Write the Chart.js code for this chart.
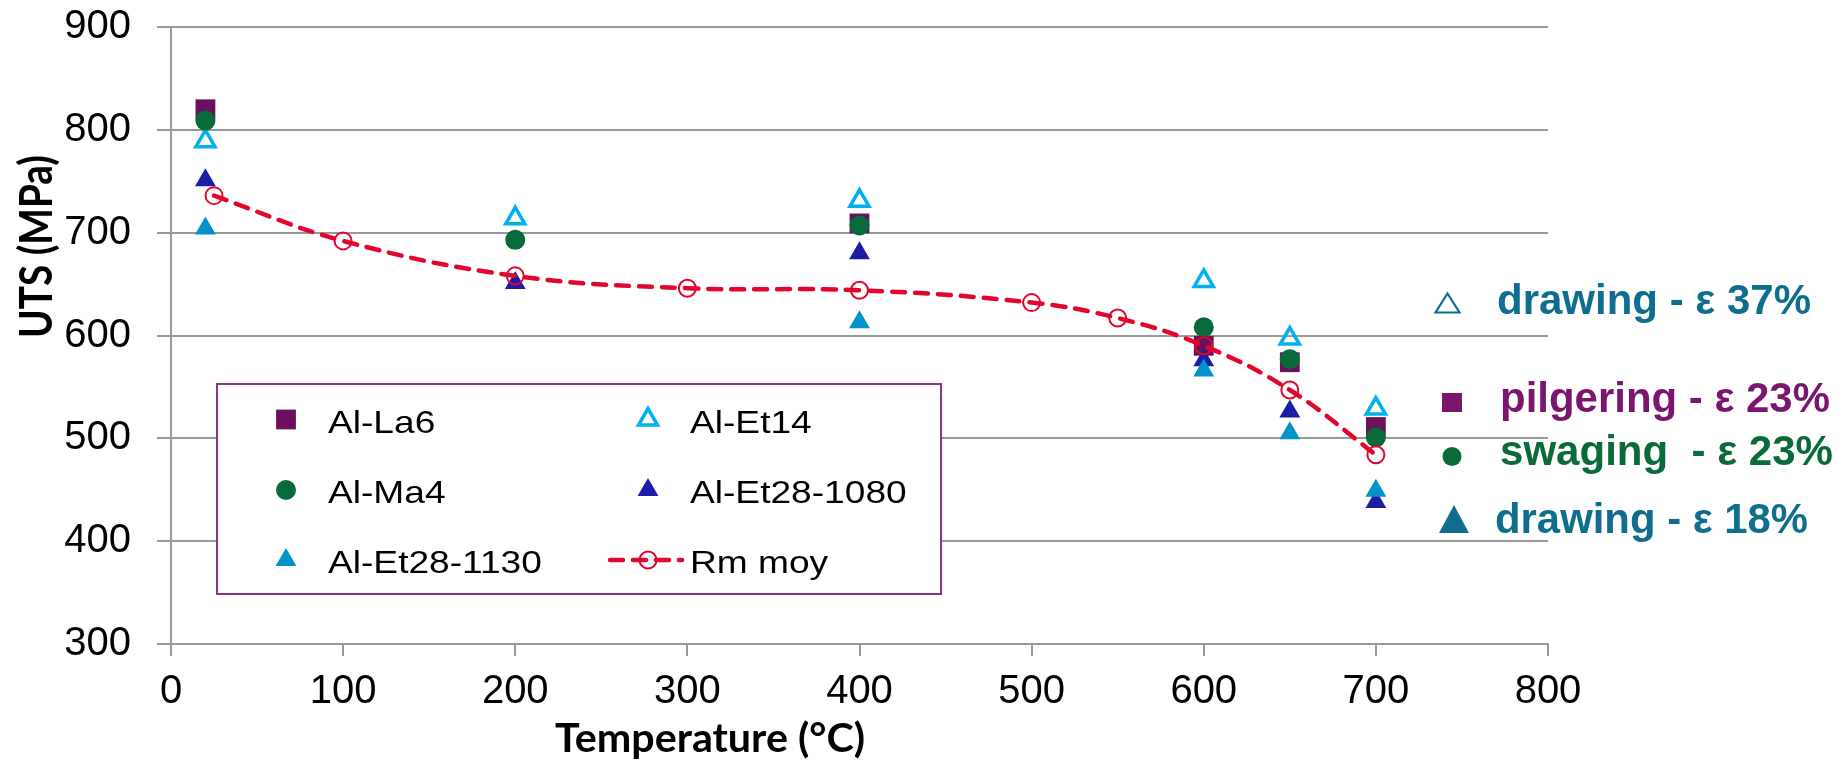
<!DOCTYPE html>
<html>
<head>
<meta charset="utf-8">
<title>UTS vs Temperature</title>
<script src="https://cdn.jsdelivr.net/npm/chart.js@4/dist/chart.umd.min.js"></script>
<style>
  html, body { margin: 0; padding: 0; background: #fff; }
  #wrap { width: 1845px; height: 771px; }
</style>
</head>
<body>
<div id="wrap"><canvas id="chart" width="1845" height="771"></canvas></div>
<script>
// temperatures (°C) and UTS (MPa) for each alloy
const la6Temp = [20, 400, 600, 650, 700];
const la6Uts = [820, 709, 590, 574, 511];

const et14Temp = [20, 200, 400, 600, 650, 700];
const et14Uts = [789, 714, 731, 653, 597, 529];

const ma4Temp = [20, 200, 400, 600, 650, 700];
const ma4Uts = [809, 693, 707, 608, 577, 501];

const et1080Temp = [20, 200, 400, 600, 650, 700];
const et1080Uts = [751, 651, 680, 576, 526, 438];

const et1130Temp = [20, 400, 600, 650, 700];
const et1130Uts = [704, 613, 566, 505, 449];

const rmTemp = [25, 100, 200, 300, 400, 500, 550, 600, 650, 700];
const rmUts = [736, 692, 658, 646, 644, 632, 617, 590, 547, 484];

const xRange = [0, 800];
const yRange = [300, 900];
const tickStep = 100;

const xTitle = 'Temperature (°C)';
const yTitle = 'UTS (MPa)';

const noteLabels = ['drawing - ε 37%', 'pilgering - ε 23%', 'swaging  - ε 23%', 'drawing - ε 18%'];

const TICK_FONT = "'Liberation Sans', Arial, sans-serif";
const RED = '#e2062c';

const toPoints = (xs, ys) => xs.map((x, i) => ({ x: x, y: ys[i] }));

// Excel-style legend order: filled row by row, 2 columns
const datasets = [
    {
        label: 'Al-La6', data: toPoints(la6Temp, la6Uts), order: 6,
        pointStyle: 'rect', pointRadius: 14, pointBorderWidth: 0,
        pointBackgroundColor: '#6c0f5e', pointBorderColor: '#6c0f5e', showLine: false
    },
    {
        label: 'Al-Et14', data: toPoints(et14Temp, et14Uts), order: 5,
        pointStyle: 'triangle', pointRadius: 11, pointBorderWidth: 3.5,
        pointBackgroundColor: 'rgba(255,255,255,0)', pointBorderColor: '#00b0f0', showLine: false
    },
    {
        label: 'Al-Ma4', data: toPoints(ma4Temp, ma4Uts), order: 4,
        pointStyle: 'circle', pointRadius: 10, pointBorderWidth: 0,
        pointBackgroundColor: '#086a3a', pointBorderColor: '#086a3a', showLine: false
    },
    {
        label: 'Al-Et28-1080', data: toPoints(et1080Temp, et1080Uts), order: 3,
        pointStyle: 'triangle', pointRadius: 12, pointBorderWidth: 0,
        pointBackgroundColor: '#1c1ca4', pointBorderColor: '#1c1ca4', showLine: false
    },
    {
        label: 'Al-Et28-1130', data: toPoints(et1130Temp, et1130Uts), order: 2,
        pointStyle: 'triangle', pointRadius: 12, pointBorderWidth: 0,
        pointBackgroundColor: '#0092c8', pointBorderColor: '#0092c8', showLine: false
    },
    {
        label: 'Rm moy', data: toPoints(rmTemp, rmUts), order: 1,
        showLine: true, borderColor: RED, borderWidth: 4.5, borderDash: [13, 10],
        borderCapStyle: 'round', tension: 0.4, fill: false,
        pointStyle: 'circle', pointRadius: 8.5, pointBorderWidth: 2,
        pointBackgroundColor: 'rgba(255,255,255,0)', pointBorderColor: RED
    }
];

// text squeezed/stretched horizontally to a given width
function fitText(ctx, text, x, y, width, font, color) {
    ctx.save();
    ctx.font = font;
    const k = width / ctx.measureText(text).width;
    ctx.translate(x, y);
    ctx.scale(k, 1);
    ctx.fillStyle = color;
    ctx.textAlign = 'left';
    ctx.textBaseline = 'alphabetic';
    ctx.fillText(text, 0, 0);
    ctx.restore();
}

function shape(ctx, kind, cx, cy, w, h) {
    ctx.beginPath();
    if (kind === 'rect') {
        ctx.rect(cx - w / 2, cy - h / 2, w, h);
    } else if (kind === 'circle') {
        ctx.arc(cx, cy, w / 2, 0, Math.PI * 2);
    } else {
        ctx.moveTo(cx, cy - h / 2);
        ctx.lineTo(cx + w / 2, cy + h / 2);
        ctx.lineTo(cx - w / 2, cy + h / 2);
        ctx.closePath();
    }
}

const overlay = {
    id: 'overlay',
    afterDraw: (chart) => {
        const ctx = chart.ctx;

        // axis titles
        fitText(ctx, xTitle, 555, 752, 310, "bold 40px Lato, 'Open Sans', sans-serif", '#000');
        ctx.save();
        ctx.translate(52, 338);
        ctx.rotate(-Math.PI / 2);
        fitText(ctx, yTitle, 0, 0, 183, "bold 46px Lato, 'Open Sans', sans-serif", '#000');
        ctx.restore();

        // legend box inside the plot
        ctx.save();
        ctx.fillStyle = '#fff';
        ctx.fillRect(217, 384, 724, 210);
        ctx.strokeStyle = '#8c3289';
        ctx.lineWidth = 2;
        ctx.strokeRect(217, 384, 724, 210);

        const colMarker = [286, 648];
        const colText = [328, 690];
        const rowY = [419.5, 490, 560];
        chart.data.datasets.forEach((ds, i) => {
            const col = i % 2;
            const y = rowY[Math.floor(i / 2)];
            const x = colMarker[col];
            if (ds.showLine) {
                ctx.save();
                ctx.strokeStyle = ds.borderColor;
                ctx.lineWidth = ds.borderWidth;
                ctx.lineCap = 'round';
                ctx.setLineDash(ds.borderDash);
                ctx.beginPath();
                ctx.moveTo(x - 38, y);
                ctx.lineTo(x + 34, y);
                ctx.stroke();
                ctx.restore();
            }
            ctx.save();
            ctx.fillStyle = ds.pointBackgroundColor;
            ctx.strokeStyle = ds.pointBorderColor;
            ctx.lineWidth = ds.pointBorderWidth;
            Chart.helpers.drawPoint(ctx, {
                pointStyle: ds.pointStyle, radius: ds.pointRadius,
                rotation: 0, borderWidth: ds.pointBorderWidth
            }, x, y);
            ctx.restore();

            ctx.save();
            ctx.font = '32px ' + TICK_FONT;
            ctx.fillStyle = '#000';
            ctx.textBaseline = 'alphabetic';
            ctx.translate(colText[col], y + 13);
            ctx.scale(1.16, 1);
            ctx.fillText(ds.label, 0, 0);
            ctx.restore();
        });
        ctx.restore();

        // process notes on the right
        const noteFont = "bold 42px 'Liberation Sans', Arial, sans-serif";
        const teal = '#0f6e8e', purple = '#7a166e', green = '#0a6a3a';

        ctx.save();
        ctx.strokeStyle = teal;
        ctx.lineWidth = 2.2;
        shape(ctx, 'tri', 1447.5, 303, 24, 19);
        ctx.stroke();
        fitText(ctx, noteLabels[0], 1497, 314, 314, noteFont, teal);

        ctx.fillStyle = purple;
        shape(ctx, 'rect', 1452, 402.5, 20, 19);
        ctx.fill();
        fitText(ctx, noteLabels[1], 1500, 412, 330, noteFont, purple);

        ctx.fillStyle = green;
        shape(ctx, 'circle', 1452, 456.5, 19, 19);
        ctx.fill();
        fitText(ctx, noteLabels[2], 1500, 465, 333, noteFont, green);

        ctx.fillStyle = teal;
        shape(ctx, 'tri', 1454, 519, 30, 28);
        ctx.fill();
        fitText(ctx, noteLabels[3], 1495, 533, 313, noteFont, teal);
        ctx.restore();
    }
};

new Chart(document.getElementById('chart'), {
    type: 'scatter',
    data: { datasets: datasets },
    options: {
        responsive: false,
        animation: false,
        devicePixelRatio: 1,
        layout: { padding: { top: 27, right: 297, bottom: 0, left: 0 } },
        plugins: {
            legend: { display: false },
            title: { display: false },
            tooltip: { enabled: false }
        },
        scales: {
            x: {
                type: 'linear',
                min: xRange[0],
                max: xRange[1],
                ticks: { stepSize: tickStep, color: '#000', font: { family: TICK_FONT, size: 40 }, padding: 12, maxRotation: 0 },
                grid: { drawOnChartArea: false, color: '#999', lineWidth: 2, tickLength: 12 },
                border: { color: '#999', width: 2 },
                afterFit: (scale) => { scale.height = 127; }
            },
            y: {
                type: 'linear',
                min: yRange[0],
                max: yRange[1],
                ticks: { stepSize: tickStep, color: '#000', font: { family: TICK_FONT, size: 40 }, padding: 26 },
                grid: { color: '#999', lineWidth: 2, tickLength: 14 },
                border: { color: '#999', width: 2 },
                afterFit: (scale) => {
                    scale.width = 171;
                    // the label gap should not push the plot area down
                    scale.paddingTop = 0;
                    scale.paddingBottom = 0;
                }
            }
        }
    },
    plugins: [overlay]
});
</script>
</body>
</html>
